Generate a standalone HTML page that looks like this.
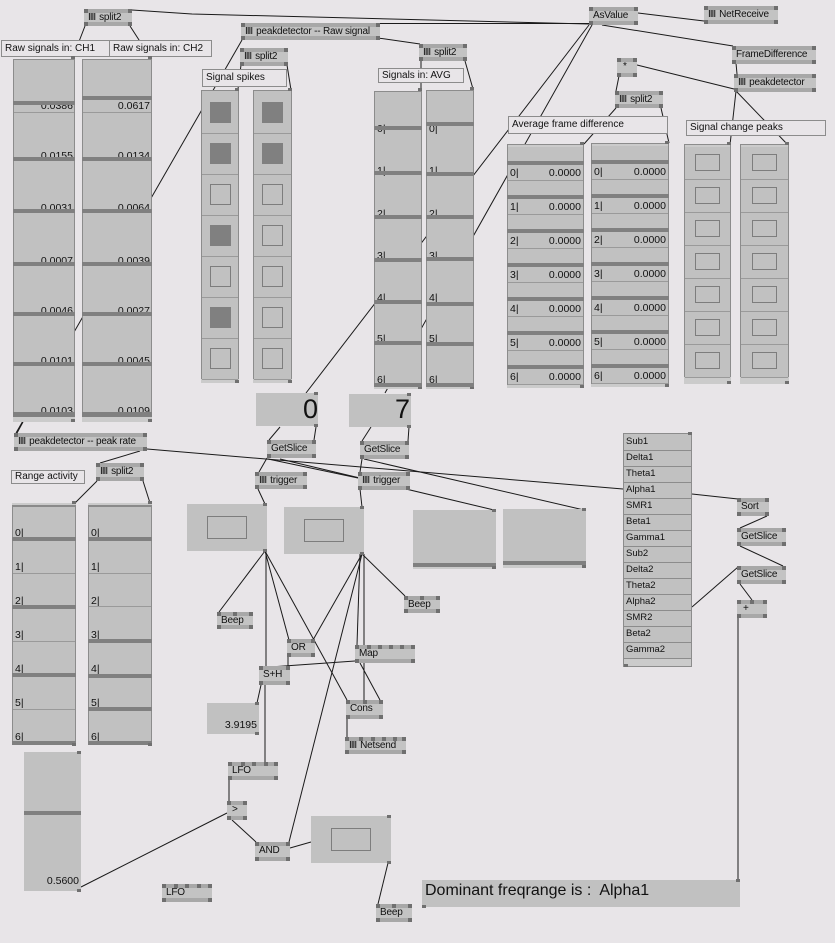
<!DOCTYPE html>
<html><head><meta charset="utf-8"><style>
html,body{margin:0;padding:0}
body{width:835px;height:943px;background:#e8e5e8;position:relative;overflow:hidden;font-family:"Liberation Sans",sans-serif;color:#111}
.n{position:absolute;box-sizing:border-box;height:18px;padding:3px 0 0 4px;font-size:10px;line-height:11px;letter-spacing:-0.2px;white-space:nowrap;overflow:hidden;
background:
linear-gradient(#6f6f6f,#6f6f6f) 0 0/4px 4px no-repeat,
linear-gradient(#6f6f6f,#6f6f6f) 100% 0/4px 4px no-repeat,
linear-gradient(#6f6f6f,#6f6f6f) 0 100%/4px 4px no-repeat,
linear-gradient(#6f6f6f,#6f6f6f) 100% 100%/4px 4px no-repeat,
linear-gradient(#a8a8a8,#a8a8a8) 0 0/100% 4px no-repeat,
linear-gradient(#a8a8a8,#a8a8a8) 0 100%/100% 4px no-repeat,
#c3c3c3}
.s{letter-spacing:-1px;margin-right:4px}
.c{position:absolute;box-sizing:border-box;border:1px solid #8c8c8c;background:#e8e5e8;font-size:10px;padding-left:3px;white-space:nowrap;overflow:hidden}
.b{position:absolute;background:#c1c1c1;box-sizing:border-box}
.col{position:absolute;background:#c1c1c1;box-sizing:border-box;border:1px solid #8c8c8c;border-bottom:0}
.bar{position:absolute;background:#808080;height:4px}
.ln{position:absolute;background:#9a9a9a;height:1px}
.st{position:absolute;background:#cbcbcb}
.t{position:absolute;font-size:10.5px;line-height:11px;white-space:nowrap}
.r{text-align:right}
.pin{position:absolute;width:4px;height:3px;background:#707070}
.np{position:absolute;width:4px;height:4px;background:#707070}
.sq{position:absolute;width:21px;height:21px;background:#808080}
.eq{position:absolute;width:21px;height:21px;border:1px solid #7d7d7d;box-sizing:border-box}
.ir{position:absolute;border:1px solid #7d7d7d;box-sizing:border-box}
svg{position:absolute;left:0;top:0}
</style></head><body>

<svg width="835" height="943" fill="none" stroke="#1a1a1a" stroke-width="1">
<path d="M132 10 L192 14 L589 24"/>
<path d="M380 23.5 L589 23.5"/>
<path d="M378 38 L420 44"/>
<path d="M638 13 L704 21"/>
<path d="M602 25 L733 46"/>
<path d="M637 65 L734 89"/>
<path d="M619 76 L616 91"/>
<path d="M616 108 L584 144"/>
<path d="M661 108 L669 143"/>
<path d="M736 63 L737 74"/>
<path d="M736 91 L730 145"/>
<path d="M736 91 L788 145"/>
<path d="M589 25 L306 393"/>
<path d="M592 25 L385 393"/>
<path d="M85 26 L73 57"/>
<path d="M130 26 L150 57"/>
<path d="M242 40 L16 433"/>
<path d="M241 65 L238 89"/>
<path d="M287 65 L291 90"/>
<path d="M421 61 L421 90"/>
<path d="M465 61 L473 89"/>
<path d="M23 422 L17 433"/>
<path d="M147 449 L623 489"/>
<path d="M140 451 L100 463"/>
<path d="M97 481 L75 503"/>
<path d="M143 481 L150 503"/>
<path d="M280 427 L269 440"/>
<path d="M316 427 L314 440"/>
<path d="M371 427 L362 441"/>
<path d="M409 427 L408 441"/>
<path d="M267 458 L259 472"/>
<path d="M362 459 L360 472"/>
<path d="M268 459 L358 478"/>
<path d="M280 459 L494 510"/>
<path d="M364 459 L584 510"/>
<path d="M258 489 L265 504"/>
<path d="M360 489 L362 507"/>
<path d="M265 551 L219 612"/>
<path d="M266 551 L266 666"/>
<path d="M265 551 L289 640"/>
<path d="M265 551 L347 700"/>
<path d="M362 554 L405 596"/>
<path d="M362 554 L313 640"/>
<path d="M360 554 L357 645"/>
<path d="M364 554 L364 700"/>
<path d="M362 554 L289 842"/>
<path d="M355 661 L270 667"/>
<path d="M288 657 L288 666"/>
<path d="M360 663 L380 700"/>
<path d="M347 719 L347 737"/>
<path d="M261 685 L257 703"/>
<path d="M265 685 L265 762"/>
<path d="M229 780 L229 801"/>
<path d="M232 820 L256 842"/>
<path d="M81 887 L227 813"/>
<path d="M290 848 L311 842"/>
<path d="M388 863 L378 904"/>
<path d="M692 494 L738 499"/>
<path d="M767 516 L740 528"/>
<path d="M740 546 L783 566"/>
<path d="M692 607 L738 567"/>
<path d="M740 584 L752 600"/>
<path d="M738 618 L738 880"/>
</svg>

<!-- ===== Nodes ===== -->
<div class="n" style="left:84px;top:9px;width:48px;height:17px"><span class="s">IIII</span>split2</div>
<div class="n" style="left:241px;top:23px;width:139px;height:17px"><span class="s">IIII</span>peakdetector -- Raw signal</div>
<div class="n" style="left:240px;top:48px;width:48px;height:18px"><span class="s">IIII</span>split2</div>
<div class="n" style="left:419px;top:44px;width:48px;height:17px"><span class="s">IIII</span>split2</div>
<div class="n" style="left:589px;top:7px;width:49px;height:18px">AsValue</div>
<div class="n" style="left:704px;top:6px;width:74px;height:18px"><span class="s">IIII</span>NetReceive</div>
<div class="n" style="left:732px;top:46px;width:84px;height:18px">FrameDifference</div>
<div class="n" style="left:734px;top:74px;width:82px;height:18px"><span class="s">IIII</span>peakdetector</div>
<div class="n" style="left:617px;top:58px;width:20px;height:19px;padding-left:6px">*</div>
<div class="n" style="left:615px;top:91px;width:48px;height:17px"><span class="s">IIII</span>split2</div>
<div class="n" style="left:14px;top:433px;width:133px;height:18px"><span class="s">IIII</span>peakdetector -- peak rate</div>
<div class="n" style="left:96px;top:463px;width:48px;height:18px"><span class="s">IIII</span>split2</div>
<div class="n" style="left:267px;top:440px;width:49px;height:18px">GetSlice</div>
<div class="n" style="left:360px;top:441px;width:49px;height:18px">GetSlice</div>
<div class="n" style="left:255px;top:472px;width:52px;height:17px"><span class="s">IIII</span>trigger</div>
<div class="n" style="left:358px;top:472px;width:52px;height:18px"><span class="s">IIII</span>trigger</div>
<div class="n" style="left:217px;top:612px;width:36px;height:17px">Beep</div>
<div class="n" style="left:404px;top:596px;width:36px;height:17px">Beep</div>
<div class="n" style="left:287px;top:639px;width:28px;height:18px">OR</div>
<div class="n" style="left:355px;top:645px;width:60px;height:18px">Map</div>
<div class="n" style="left:259px;top:666px;width:31px;height:19px">S+H</div>
<div class="n" style="left:346px;top:700px;width:37px;height:19px">Cons</div>
<div class="n" style="left:345px;top:737px;width:61px;height:17px"><span class="s">IIII</span>Netsend</div>
<div class="n" style="left:228px;top:762px;width:50px;height:18px">LFO</div>
<div class="n" style="left:227px;top:801px;width:20px;height:19px;padding-left:5px">&gt;</div>
<div class="n" style="left:255px;top:842px;width:35px;height:19px">AND</div>
<div class="n" style="left:162px;top:884px;width:50px;height:18px">LFO</div>
<div class="n" style="left:376px;top:904px;width:36px;height:18px">Beep</div>
<div class="n" style="left:737px;top:498px;width:32px;height:18px">Sort</div>
<div class="n" style="left:737px;top:528px;width:49px;height:18px">GetSlice</div>
<div class="n" style="left:737px;top:566px;width:49px;height:18px">GetSlice</div>
<div class="n" style="left:737px;top:600px;width:30px;height:18px;padding-left:6px">+</div>

<!-- extra node pins -->
<div class="np" style="left:367px;top:645px"></div><div class="np" style="left:378px;top:645px"></div><div class="np" style="left:389px;top:645px"></div><div class="np" style="left:400px;top:645px"></div>
<div class="np" style="left:241px;top:762px"></div><div class="np" style="left:252px;top:762px"></div><div class="np" style="left:264px;top:762px"></div>
<div class="np" style="left:174px;top:884px"></div><div class="np" style="left:185px;top:884px"></div><div class="np" style="left:197px;top:884px"></div>
<div class="np" style="left:233px;top:612px"></div>
<div class="np" style="left:420px;top:596px"></div>
<div class="np" style="left:392px;top:904px"></div>
<div class="np" style="left:359px;top:737px"></div><div class="np" style="left:371px;top:737px"></div><div class="np" style="left:382px;top:737px"></div><div class="np" style="left:393px;top:737px"></div>
<div class="np" style="left:363px;top:700px"></div>
<div class="np" style="left:750px;top:600px"></div>

<!-- ===== Comments ===== -->
<div class="c" style="left:1px;top:40px;width:109px;height:17px;line-height:15px">Raw signals in: CH1</div>
<div class="c" style="left:109px;top:40px;width:103px;height:17px;line-height:15px">Raw signals in: CH2</div>
<div class="c" style="left:202px;top:69px;width:85px;height:18px;line-height:16px">Signal spikes</div>
<div class="c" style="left:378px;top:68px;width:86px;height:15px;line-height:13px">Signals in: AVG</div>
<div class="c" style="left:508px;top:116px;width:160px;height:18px;line-height:16px">Average frame difference</div>
<div class="c" style="left:686px;top:120px;width:140px;height:16px;line-height:14px">Signal change peaks</div>
<div class="c" style="left:11px;top:470px;width:74px;height:14px;line-height:12px">Range activity</div>

<!-- ===== CH1 / CH2 sliders ===== -->
<div class="col" style="left:13px;top:59px;width:62px;height:363px"></div>
<div class="st" style="left:13px;top:417px;width:62px;height:5px"></div>
<div class="col" style="left:82px;top:59px;width:70px;height:363px"></div>
<div class="st" style="left:82px;top:417px;width:70px;height:5px"></div>
<div class="pin" style="left:71px;top:56px"></div><div class="pin" style="left:148px;top:56px"></div>
<div class="pin" style="left:71px;top:419px"></div><div class="pin" style="left:148px;top:419px"></div>
<div class="ln" style="left:14px;top:112px;width:60px"></div><div class="ln" style="left:83px;top:112px;width:68px"></div>

<div class="t r" style="left:13px;width:60px;top:101px">0.0386</div>
<div class="t r" style="left:13px;width:60px;top:151px">0.0155</div>
<div class="t r" style="left:13px;width:60px;top:203px">0.0031</div>
<div class="t r" style="left:13px;width:60px;top:256px">0.0007</div>
<div class="t r" style="left:13px;width:60px;top:306px">0.0046</div>
<div class="t r" style="left:13px;width:60px;top:356px">0.0101</div>
<div class="t r" style="left:13px;width:60px;top:406px">0.0103</div>
<div class="t r" style="left:82px;width:68px;top:101px">0.0617</div>
<div class="t r" style="left:82px;width:68px;top:151px">0.0134</div>
<div class="t r" style="left:82px;width:68px;top:203px">0.0064</div>
<div class="t r" style="left:82px;width:68px;top:256px">0.0039</div>
<div class="t r" style="left:82px;width:68px;top:306px">0.0027</div>
<div class="t r" style="left:82px;width:68px;top:356px">0.0045</div>
<div class="t r" style="left:82px;width:68px;top:406px">0.0109</div>

<div class="bar" style="left:13px;width:62px;top:101px"></div>
<div class="bar" style="left:13px;width:62px;top:157px"></div>
<div class="bar" style="left:13px;width:62px;top:209px"></div>
<div class="bar" style="left:13px;width:62px;top:262px"></div>
<div class="bar" style="left:13px;width:62px;top:312px"></div>
<div class="bar" style="left:13px;width:62px;top:362px"></div>
<div class="bar" style="left:13px;width:62px;top:412px;height:5px"></div>
<div class="bar" style="left:82px;width:70px;top:96px"></div>
<div class="bar" style="left:82px;width:70px;top:157px"></div>
<div class="bar" style="left:82px;width:70px;top:209px"></div>
<div class="bar" style="left:82px;width:70px;top:262px"></div>
<div class="bar" style="left:82px;width:70px;top:312px"></div>
<div class="bar" style="left:82px;width:70px;top:362px"></div>
<div class="bar" style="left:82px;width:70px;top:412px;height:5px"></div>

<!-- ===== Signal spikes toggles ===== -->
<div class="col" style="left:201px;top:90px;width:38px;height:293px"></div>
<div class="col" style="left:253px;top:90px;width:39px;height:293px"></div>
<div class="st" style="left:201px;top:379px;width:38px;height:4px"></div>
<div class="st" style="left:253px;top:379px;width:39px;height:4px"></div>
<div class="pin" style="left:235px;top:88px"></div><div class="pin" style="left:288px;top:88px"></div>
<div class="pin" style="left:235px;top:380px"></div><div class="pin" style="left:288px;top:380px"></div>
<div class="ln" style="left:202px;top:133px;width:36px"></div><div class="ln" style="left:202px;top:174px;width:36px"></div><div class="ln" style="left:202px;top:215px;width:36px"></div><div class="ln" style="left:202px;top:256px;width:36px"></div><div class="ln" style="left:202px;top:297px;width:36px"></div><div class="ln" style="left:202px;top:338px;width:36px"></div><div class="ln" style="left:202px;top:379px;width:36px"></div>
<div class="ln" style="left:254px;top:133px;width:37px"></div><div class="ln" style="left:254px;top:174px;width:37px"></div><div class="ln" style="left:254px;top:215px;width:37px"></div><div class="ln" style="left:254px;top:256px;width:37px"></div><div class="ln" style="left:254px;top:297px;width:37px"></div><div class="ln" style="left:254px;top:338px;width:37px"></div><div class="ln" style="left:254px;top:379px;width:37px"></div>
<div class="sq" style="left:210px;top:102px"></div>
<div class="sq" style="left:210px;top:143px"></div>
<div class="eq" style="left:210px;top:184px"></div>
<div class="sq" style="left:210px;top:225px"></div>
<div class="eq" style="left:210px;top:266px"></div>
<div class="sq" style="left:210px;top:307px"></div>
<div class="eq" style="left:210px;top:348px"></div>
<div class="sq" style="left:262px;top:102px"></div>
<div class="sq" style="left:262px;top:143px"></div>
<div class="eq" style="left:262px;top:184px"></div>
<div class="eq" style="left:262px;top:225px"></div>
<div class="eq" style="left:262px;top:266px"></div>
<div class="eq" style="left:262px;top:307px"></div>
<div class="eq" style="left:262px;top:348px"></div>

<!-- ===== AVG sliders ===== -->
<div class="col" style="left:374px;top:91px;width:48px;height:297px"></div>
<div class="col" style="left:426px;top:90px;width:48px;height:298px"></div>
<div class="st" style="left:374px;top:387px;width:48px;height:2px"></div>
<div class="st" style="left:426px;top:387px;width:48px;height:2px"></div>
<div class="pin" style="left:418px;top:88px"></div><div class="pin" style="left:470px;top:87px"></div>
<div class="pin" style="left:418px;top:386px"></div><div class="pin" style="left:470px;top:386px"></div>
<div class="t" style="left:377px;top:124px">0|</div><div class="t" style="left:377px;top:166px">1|</div><div class="t" style="left:377px;top:209px">2|</div><div class="t" style="left:377px;top:251px">3|</div><div class="t" style="left:377px;top:293px">4|</div><div class="t" style="left:377px;top:334px">5|</div><div class="t" style="left:377px;top:375px">6|</div>
<div class="t" style="left:429px;top:124px">0|</div><div class="t" style="left:429px;top:166px">1|</div><div class="t" style="left:429px;top:209px">2|</div><div class="t" style="left:429px;top:251px">3|</div><div class="t" style="left:429px;top:293px">4|</div><div class="t" style="left:429px;top:334px">5|</div><div class="t" style="left:429px;top:375px">6|</div>
<div class="bar" style="left:374px;width:48px;top:126px"></div><div class="bar" style="left:374px;width:48px;top:171px"></div><div class="bar" style="left:374px;width:48px;top:215px"></div><div class="bar" style="left:374px;width:48px;top:258px"></div><div class="bar" style="left:374px;width:48px;top:300px"></div><div class="bar" style="left:374px;width:48px;top:341px"></div><div class="bar" style="left:374px;width:48px;top:383px"></div>
<div class="bar" style="left:426px;width:48px;top:122px"></div><div class="bar" style="left:426px;width:48px;top:172px"></div><div class="bar" style="left:426px;width:48px;top:215px"></div><div class="bar" style="left:426px;width:48px;top:257px"></div><div class="bar" style="left:426px;width:48px;top:302px"></div><div class="bar" style="left:426px;width:48px;top:342px"></div><div class="bar" style="left:426px;width:48px;top:383px"></div>

<!-- ===== Frame difference sliders ===== -->
<div class="col" style="left:507px;top:144px;width:77px;height:244px"></div>
<div class="col" style="left:591px;top:143px;width:78px;height:244px"></div>
<div class="st" style="left:508px;top:145px;width:75px;height:2px"></div>
<div class="st" style="left:592px;top:144px;width:76px;height:2px"></div>
<div class="st" style="left:507px;top:385px;width:77px;height:3px"></div>
<div class="st" style="left:591px;top:384px;width:78px;height:3px"></div>
<div class="pin" style="left:580px;top:142px"></div><div class="pin" style="left:665px;top:141px"></div>
<div class="pin" style="left:580px;top:385px"></div><div class="pin" style="left:665px;top:384px"></div>

<div class="bar" style="left:507px;width:77px;top:161px"></div><div class="bar" style="left:507px;width:77px;top:195px"></div><div class="bar" style="left:507px;width:77px;top:229px"></div><div class="bar" style="left:507px;width:77px;top:263px"></div><div class="bar" style="left:507px;width:77px;top:297px"></div><div class="bar" style="left:507px;width:77px;top:331px"></div><div class="bar" style="left:507px;width:77px;top:365px"></div>
<div class="ln" style="left:508px;width:75px;top:180px"></div><div class="ln" style="left:508px;width:75px;top:214px"></div><div class="ln" style="left:508px;width:75px;top:248px"></div><div class="ln" style="left:508px;width:75px;top:282px"></div><div class="ln" style="left:508px;width:75px;top:316px"></div><div class="ln" style="left:508px;width:75px;top:350px"></div><div class="ln" style="left:508px;width:75px;top:384px"></div>
<div class="bar" style="left:591px;width:78px;top:160px"></div><div class="bar" style="left:591px;width:78px;top:194px"></div><div class="bar" style="left:591px;width:78px;top:228px"></div><div class="bar" style="left:591px;width:78px;top:262px"></div><div class="bar" style="left:591px;width:78px;top:296px"></div><div class="bar" style="left:591px;width:78px;top:330px"></div><div class="bar" style="left:591px;width:78px;top:364px"></div>
<div class="ln" style="left:592px;width:76px;top:179px"></div><div class="ln" style="left:592px;width:76px;top:213px"></div><div class="ln" style="left:592px;width:76px;top:247px"></div><div class="ln" style="left:592px;width:76px;top:281px"></div><div class="ln" style="left:592px;width:76px;top:315px"></div><div class="ln" style="left:592px;width:76px;top:349px"></div><div class="ln" style="left:592px;width:76px;top:383px"></div>

<div class="t" style="left:510px;top:168px">0|</div><div class="t r" style="left:507px;width:74px;top:168px">0.0000</div>
<div class="t" style="left:510px;top:202px">1|</div><div class="t r" style="left:507px;width:74px;top:202px">0.0000</div>
<div class="t" style="left:510px;top:236px">2|</div><div class="t r" style="left:507px;width:74px;top:236px">0.0000</div>
<div class="t" style="left:510px;top:270px">3|</div><div class="t r" style="left:507px;width:74px;top:270px">0.0000</div>
<div class="t" style="left:510px;top:304px">4|</div><div class="t r" style="left:507px;width:74px;top:304px">0.0000</div>
<div class="t" style="left:510px;top:338px">5|</div><div class="t r" style="left:507px;width:74px;top:338px">0.0000</div>
<div class="t" style="left:510px;top:372px">6|</div><div class="t r" style="left:507px;width:74px;top:372px">0.0000</div>
<div class="t" style="left:594px;top:167px">0|</div><div class="t r" style="left:591px;width:75px;top:167px">0.0000</div>
<div class="t" style="left:594px;top:201px">1|</div><div class="t r" style="left:591px;width:75px;top:201px">0.0000</div>
<div class="t" style="left:594px;top:235px">2|</div><div class="t r" style="left:591px;width:75px;top:235px">0.0000</div>
<div class="t" style="left:594px;top:269px">3|</div><div class="t r" style="left:591px;width:75px;top:269px">0.0000</div>
<div class="t" style="left:594px;top:303px">4|</div><div class="t r" style="left:591px;width:75px;top:303px">0.0000</div>
<div class="t" style="left:594px;top:337px">5|</div><div class="t r" style="left:591px;width:75px;top:337px">0.0000</div>
<div class="t" style="left:594px;top:371px">6|</div><div class="t r" style="left:591px;width:75px;top:371px">0.0000</div>

<!-- ===== Signal change peaks toggles ===== -->
<div class="col" style="left:684px;top:144px;width:47px;height:240px"></div>
<div class="col" style="left:740px;top:144px;width:49px;height:240px"></div>
<div class="st" style="left:685px;top:145px;width:45px;height:2px"></div>
<div class="st" style="left:741px;top:145px;width:47px;height:2px"></div>
<div class="st" style="left:684px;top:377px;width:47px;height:7px"></div>
<div class="st" style="left:740px;top:377px;width:49px;height:7px"></div>
<div class="pin" style="left:727px;top:142px"></div><div class="pin" style="left:785px;top:142px"></div>
<div class="pin" style="left:727px;top:381px"></div><div class="pin" style="left:785px;top:381px"></div>
<div class="ln" style="left:685px;width:45px;top:179px"></div><div class="ln" style="left:685px;width:45px;top:212px"></div><div class="ln" style="left:685px;width:45px;top:245px"></div><div class="ln" style="left:685px;width:45px;top:278px"></div><div class="ln" style="left:685px;width:45px;top:311px"></div><div class="ln" style="left:685px;width:45px;top:344px"></div><div class="ln" style="left:685px;width:45px;top:377px"></div>
<div class="ln" style="left:741px;width:47px;top:179px"></div><div class="ln" style="left:741px;width:47px;top:212px"></div><div class="ln" style="left:741px;width:47px;top:245px"></div><div class="ln" style="left:741px;width:47px;top:278px"></div><div class="ln" style="left:741px;width:47px;top:311px"></div><div class="ln" style="left:741px;width:47px;top:344px"></div><div class="ln" style="left:741px;width:47px;top:377px"></div>
<div class="ir" style="left:695px;top:154px;width:25px;height:17px"></div><div class="ir" style="left:695px;top:187px;width:25px;height:17px"></div><div class="ir" style="left:695px;top:220px;width:25px;height:17px"></div><div class="ir" style="left:695px;top:253px;width:25px;height:17px"></div><div class="ir" style="left:695px;top:286px;width:25px;height:17px"></div><div class="ir" style="left:695px;top:319px;width:25px;height:17px"></div><div class="ir" style="left:695px;top:352px;width:25px;height:17px"></div>
<div class="ir" style="left:752px;top:154px;width:25px;height:17px"></div><div class="ir" style="left:752px;top:187px;width:25px;height:17px"></div><div class="ir" style="left:752px;top:220px;width:25px;height:17px"></div><div class="ir" style="left:752px;top:253px;width:25px;height:17px"></div><div class="ir" style="left:752px;top:286px;width:25px;height:17px"></div><div class="ir" style="left:752px;top:319px;width:25px;height:17px"></div><div class="ir" style="left:752px;top:352px;width:25px;height:17px"></div>

<!-- ===== Range activity sliders ===== -->
<div class="col" style="left:12px;top:503px;width:64px;height:242px;border-top:0"></div>
<div class="col" style="left:88px;top:503px;width:64px;height:242px;border-top:0"></div>
<div class="st" style="left:12px;top:503px;width:64px;height:2px"></div>
<div class="st" style="left:88px;top:503px;width:64px;height:2px"></div>
<div class="bar" style="left:12px;width:64px;top:505px;height:2px;background:#8a8a8a"></div>
<div class="bar" style="left:88px;width:64px;top:505px;height:2px;background:#8a8a8a"></div>
<div class="pin" style="left:72px;top:501px"></div><div class="pin" style="left:148px;top:501px"></div>
<div class="t" style="left:15px;top:528px">0|</div><div class="t" style="left:15px;top:562px">1|</div><div class="t" style="left:15px;top:596px">2|</div><div class="t" style="left:15px;top:630px">3|</div><div class="t" style="left:15px;top:664px">4|</div><div class="t" style="left:15px;top:698px">5|</div><div class="t" style="left:15px;top:732px">6|</div>
<div class="t" style="left:91px;top:528px">0|</div><div class="t" style="left:91px;top:562px">1|</div><div class="t" style="left:91px;top:596px">2|</div><div class="t" style="left:91px;top:630px">3|</div><div class="t" style="left:91px;top:664px">4|</div><div class="t" style="left:91px;top:698px">5|</div><div class="t" style="left:91px;top:732px">6|</div>
<div class="bar" style="left:12px;width:64px;top:537px"></div><div class="ln" style="left:13px;width:62px;top:573px"></div><div class="bar" style="left:12px;width:64px;top:605px"></div><div class="ln" style="left:13px;width:62px;top:641px"></div><div class="bar" style="left:12px;width:64px;top:673px"></div><div class="ln" style="left:13px;width:62px;top:709px"></div><div class="bar" style="left:12px;width:64px;top:741px"></div>
<div class="bar" style="left:88px;width:64px;top:537px"></div><div class="ln" style="left:89px;width:62px;top:573px"></div><div class="ln" style="left:89px;width:62px;top:606px"></div><div class="bar" style="left:88px;width:64px;top:639px"></div><div class="bar" style="left:88px;width:64px;top:674px"></div><div class="bar" style="left:88px;width:64px;top:707px"></div><div class="bar" style="left:88px;width:64px;top:741px"></div>
<div class="pin" style="left:72px;top:743px"></div><div class="pin" style="left:148px;top:743px"></div>

<!-- ===== Value boxes ===== -->
<div class="b" style="left:256px;top:393px;width:62px;height:33px"></div>
<div style="position:absolute;left:256px;top:394px;width:62px;text-align:right;font-size:27px;line-height:30px">0</div>
<div class="pin" style="left:314px;top:392px"></div><div class="pin" style="left:314px;top:424px"></div>
<div class="b" style="left:349px;top:394px;width:62px;height:33px"></div>
<div style="position:absolute;left:349px;top:394px;width:61px;text-align:right;font-size:27px;line-height:30px">7</div>
<div class="pin" style="left:407px;top:393px"></div><div class="pin" style="left:407px;top:425px"></div>

<div class="b" style="left:207px;top:703px;width:52px;height:31px"></div>
<div class="t r" style="left:207px;width:50px;top:720px">3.9195</div>
<div class="pin" style="left:255px;top:702px"></div><div class="pin" style="left:255px;top:732px"></div>

<div class="b" style="left:24px;top:752px;width:57px;height:139px"></div>
<div class="bar" style="left:24px;width:57px;top:811px"></div>
<div class="t r" style="left:24px;width:55px;top:876px">0.5600</div>
<div class="pin" style="left:77px;top:751px"></div><div class="pin" style="left:77px;top:889px"></div>

<!-- toggles -->
<div class="b" style="left:187px;top:504px;width:80px;height:47px"></div>
<div class="ir" style="left:207px;top:516px;width:40px;height:23px"></div>
<div class="pin" style="left:263px;top:503px"></div><div class="pin" style="left:263px;top:549px"></div>
<div class="b" style="left:284px;top:507px;width:80px;height:47px"></div>
<div class="ir" style="left:304px;top:519px;width:40px;height:23px"></div>
<div class="pin" style="left:360px;top:506px"></div><div class="pin" style="left:360px;top:552px"></div>
<div class="b" style="left:311px;top:816px;width:80px;height:47px"></div>
<div class="ir" style="left:331px;top:828px;width:40px;height:23px"></div>
<div class="pin" style="left:387px;top:815px"></div><div class="pin" style="left:387px;top:861px"></div>

<!-- slider boxes -->
<div class="b" style="left:413px;top:510px;width:83px;height:59px"></div>
<div class="bar" style="left:413px;width:83px;top:563px"></div>
<div class="st" style="left:413px;top:567px;width:83px;height:2px"></div>
<div class="pin" style="left:492px;top:509px"></div><div class="pin" style="left:492px;top:566px"></div>
<div class="b" style="left:503px;top:509px;width:83px;height:59px"></div>
<div class="bar" style="left:503px;width:83px;top:561px"></div>
<div class="st" style="left:503px;top:565px;width:83px;height:3px"></div>
<div class="pin" style="left:582px;top:508px"></div><div class="pin" style="left:582px;top:565px"></div>

<!-- ===== List ===== -->
<div class="b" style="left:623px;top:433px;width:69px;height:234px;border:1px solid #8c8c8c"></div>
<div class="st" style="left:624px;top:659px;width:67px;height:7px"></div>
<div class="ln" style="left:623px;width:69px;top:450px;background:#8c8c8c"></div>
<div class="ln" style="left:623px;width:69px;top:466px;background:#8c8c8c"></div>
<div class="ln" style="left:623px;width:69px;top:482px;background:#8c8c8c"></div>
<div class="ln" style="left:623px;width:69px;top:498px;background:#8c8c8c"></div>
<div class="ln" style="left:623px;width:69px;top:514px;background:#8c8c8c"></div>
<div class="ln" style="left:623px;width:69px;top:530px;background:#8c8c8c"></div>
<div class="ln" style="left:623px;width:69px;top:546px;background:#8c8c8c"></div>
<div class="ln" style="left:623px;width:69px;top:562px;background:#8c8c8c"></div>
<div class="ln" style="left:623px;width:69px;top:578px;background:#8c8c8c"></div>
<div class="ln" style="left:623px;width:69px;top:594px;background:#8c8c8c"></div>
<div class="ln" style="left:623px;width:69px;top:610px;background:#8c8c8c"></div>
<div class="ln" style="left:623px;width:69px;top:626px;background:#8c8c8c"></div>
<div class="ln" style="left:623px;width:69px;top:642px;background:#8c8c8c"></div>
<div class="ln" style="left:623px;width:69px;top:658px;background:#8c8c8c"></div>
<div class="t" style="left:626px;top:436px;font-size:9.5px">Sub1</div>
<div class="t" style="left:626px;top:452px;font-size:9.5px">Delta1</div>
<div class="t" style="left:626px;top:468px;font-size:9.5px">Theta1</div>
<div class="t" style="left:626px;top:484px;font-size:9.5px">Alpha1</div>
<div class="t" style="left:626px;top:500px;font-size:9.5px">SMR1</div>
<div class="t" style="left:626px;top:516px;font-size:9.5px">Beta1</div>
<div class="t" style="left:626px;top:532px;font-size:9.5px">Gamma1</div>
<div class="t" style="left:626px;top:548px;font-size:9.5px">Sub2</div>
<div class="t" style="left:626px;top:564px;font-size:9.5px">Delta2</div>
<div class="t" style="left:626px;top:580px;font-size:9.5px">Theta2</div>
<div class="t" style="left:626px;top:596px;font-size:9.5px">Alpha2</div>
<div class="t" style="left:626px;top:612px;font-size:9.5px">SMR2</div>
<div class="t" style="left:626px;top:628px;font-size:9.5px">Beta2</div>
<div class="t" style="left:626px;top:644px;font-size:9.5px">Gamma2</div>
<div class="pin" style="left:688px;top:432px"></div><div class="pin" style="left:624px;top:664px"></div>

<!-- ===== Dominant ===== -->
<div class="b" style="left:422px;top:880px;width:318px;height:27px"></div>
<div style="position:absolute;left:425px;top:882px;font-size:16px;line-height:18px;white-space:nowrap">Dominant freqrange is :&nbsp; Alpha1</div>
<div class="pin" style="left:736px;top:879px"></div><div class="pin" style="left:422px;top:905px"></div>

</body></html>
